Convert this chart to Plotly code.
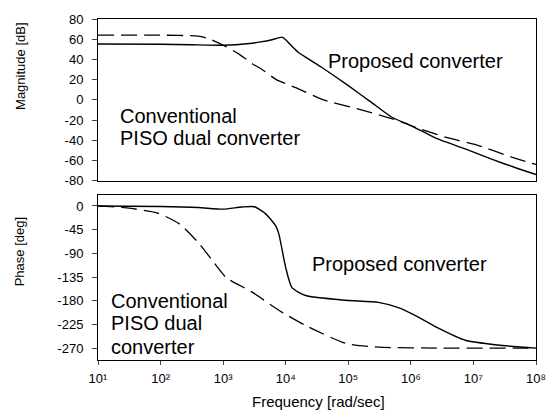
import plotly.graph_objects as go

# ---------------- data ----------------
# Magnitude, proposed converter (solid)
mag_prop_freq = [10, 100, 316, 1000, 2630, 3980, 6030, 8710, 10000, 13000, 16200,
                 38000, 100000, 234000, 490000, 1000000, 2750000, 7400000,
                 19000000, 51000000, 100000000]
mag_prop_db = [55.3, 55, 54.5, 54, 55.7, 57.3, 59.5, 62, 59.5, 52, 46.6,
               32, 14, -2.5, -17, -25.5, -39, -48.6, -58.5, -68, -74]

# Magnitude, conventional PISO dual converter (dashed)
mag_conv_freq = [10, 100, 398, 603, 1120, 1820, 2950, 3980, 7080, 14500,
                 38000, 162000, 589000, 1000000, 3550000, 11700000,
                 39800000, 100000000]
mag_conv_db = [64, 64, 63, 60.3, 52.5, 45, 35.5, 31, 20, 12,
               0.5, -10, -20, -25.5, -37, -45, -56.5, -64]

# Phase, proposed converter (solid)
ph_prop_freq = [10, 100, 398, 1000, 2000, 3160, 4790, 6920, 7760, 10000,
                12600, 20900, 91200, 302000, 631000, 1320000, 2750000,
                7410000, 24500000, 100000000]
ph_prop_deg = [0, -1, -3, -6, -2, -1.5, -15, -38, -53, -117,
               -155, -170, -179, -183, -193, -211, -232,
               -255, -264, -270]

# Phase, conventional PISO dual converter (dashed)
ph_conv_freq = [10, 28.8, 87.1, 200, 417, 676, 1120, 2950,
                7760, 20900, 91200, 302000, 3160000, 100000000]
ph_conv_deg = [0, -3.8, -13, -34, -72, -104, -136, -164,
               -198, -227, -261, -268, -270, -270]

mag_ticks = [80, 60, 40, 20, 0, -20, -40, -60, -80]
phase_ticks = [0, -45, -90, -135, -180, -225, -270]
freq_ticks = [10, 100, 1000, 10000, 100000, 1000000, 10000000, 100000000]
freq_tick_text = ["10¹", "10²", "10³", "10⁴", "10⁵", "10⁶", "10⁷", "10⁸"]

labels = {
    "mag_title": "Magnitude [dB]",
    "phase_title": "Phase [deg]",
    "x_title": "Frequency [rad/sec]",
    "proposed": "Proposed converter",
    "conv_lines_top": ["Conventional", "PISO dual converter"],
    "conv_lines_bot": ["Conventional", "PISO dual", "converter"],
}

# ---------------- figure ----------------
FONT = "Liberation Sans, Arial, sans-serif"
fig = go.Figure()

solid = dict(color="black", width=1.4)
dashed = dict(color="black", width=1.3, dash="16px,7px")

fig.add_trace(go.Scatter(x=mag_prop_freq, y=mag_prop_db, mode="lines",
                         line=dict(shape="spline", smoothing=0.4, **solid),
                         xaxis="x", yaxis="y", showlegend=False))
fig.add_trace(go.Scatter(x=mag_conv_freq, y=mag_conv_db, mode="lines",
                         line=dict(shape="spline", smoothing=0.6, **dashed),
                         xaxis="x", yaxis="y", showlegend=False))
fig.add_trace(go.Scatter(x=ph_prop_freq, y=ph_prop_deg, mode="lines",
                         line=dict(shape="spline", smoothing=0.6, **solid),
                         xaxis="x2", yaxis="y2", showlegend=False))
fig.add_trace(go.Scatter(x=ph_conv_freq, y=ph_conv_deg, mode="lines",
                         line=dict(shape="spline", smoothing=0.6, **dashed),
                         xaxis="x2", yaxis="y2", showlegend=False))

tick_font = dict(family=FONT, size=13, color="black")
axis_common = dict(showline=True, linecolor="black", linewidth=1, mirror=True,
                   showgrid=False, zeroline=False, tickfont=tick_font)

fig.update_layout(
    width=558, height=414,
    margin=dict(l=98, r=20, t=16, b=54),
    paper_bgcolor="white", plot_bgcolor="white",
    font=dict(family=FONT, color="black"),
    xaxis=dict(type="log", range=[1, 8], domain=[0, 1], anchor="y",
               showticklabels=False, ticks="", **axis_common),
    yaxis=dict(range=[-80, 80], domain=[0.526, 1], anchor="x",
               tickvals=mag_ticks, ticktext=[str(v) for v in mag_ticks],
               ticks="outside", ticklen=5, ticklabelstandoff=6, **axis_common),
    xaxis2=dict(type="log", range=[1, 8], domain=[0, 1], anchor="y2",
                tickvals=freq_ticks, ticktext=freq_tick_text,
                ticks="outside", ticklen=4, ticklabelstandoff=2, **axis_common),
    yaxis2=dict(range=[-292.5, 20], domain=[0, 0.4826], anchor="x2",
                tickvals=phase_ticks, ticktext=[str(v) for v in phase_ticks],
                ticks="outside", ticklen=5, ticklabelstandoff=6, **axis_common),
)

ann_font = dict(family=FONT, size=20, color="black")
ax_font = dict(family=FONT, size=13, color="black")


def px_x(p):
    return (p - 98) / 440.0


def px_y(p):
    return (360 - p) / 344.0


anns = [
    dict(text=labels["proposed"], x=px_x(327), y=px_y(58), font=ann_font,
         xanchor="left", yanchor="middle"),
    dict(text=labels["conv_lines_top"][0], x=px_x(118), y=px_y(114), font=ann_font,
         xanchor="left", yanchor="middle"),
    dict(text=labels["conv_lines_top"][1], x=px_x(118), y=px_y(136), font=ann_font,
         xanchor="left", yanchor="middle"),
    dict(text=labels["proposed"], x=px_x(311), y=px_y(263), font=ann_font,
         xanchor="left", yanchor="middle"),
    dict(text=labels["conv_lines_bot"][0], x=px_x(109), y=px_y(300), font=ann_font,
         xanchor="left", yanchor="middle"),
    dict(text=labels["conv_lines_bot"][1], x=px_x(109), y=px_y(323), font=ann_font,
         xanchor="left", yanchor="middle"),
    dict(text=labels["conv_lines_bot"][2], x=px_x(109), y=px_y(347), font=ann_font,
         xanchor="left", yanchor="middle"),
    dict(text=labels["mag_title"], x=px_x(20), y=px_y(64), font=ax_font,
         textangle=-90, xanchor="center", yanchor="middle"),
    dict(text=labels["phase_title"], x=px_x(20), y=px_y(251), font=ax_font,
         textangle=-90, xanchor="center", yanchor="middle"),
    dict(text=labels["x_title"], x=px_x(320), y=px_y(402),
         font=dict(family=FONT, size=15, color="black"),
         xanchor="center", yanchor="middle"),
]
for a in anns:
    a.update(xref="paper", yref="paper", showarrow=False)
fig.update_layout(annotations=anns)

fig.write_html("out.html")
